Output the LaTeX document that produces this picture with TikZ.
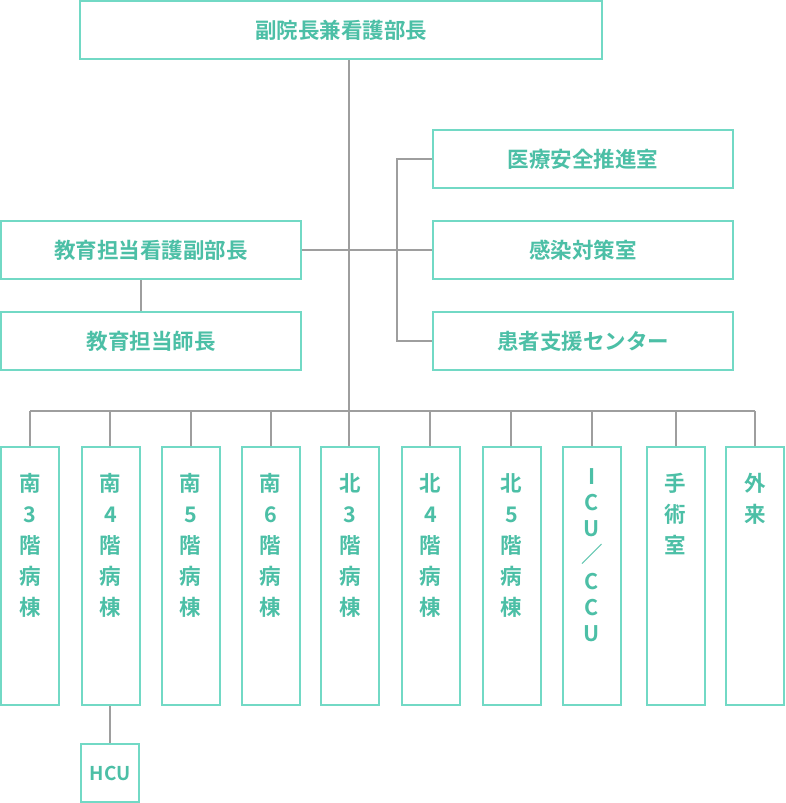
\documentclass[tikz,border=0pt]{standalone}
\usepackage{fontspec}
\setmainfont{Noto Sans CJK JP}[BoldFont={Noto Sans CJK JP Bold}]
\definecolor{tealline}{HTML}{72D9C5}
\definecolor{tealtext}{HTML}{4CBFA6}
\definecolor{grayline}{HTML}{9E9E9E}
\tikzset{
  box/.style={draw=tealline, line width=2pt, fill=white, inner sep=0pt,
    font=\fontsize{21.5}{24}\selectfont\bfseries, text=tealtext},
  wide/.style={box, minimum width=300pt, minimum height=58pt},
  col/.style={box, minimum width=58pt, minimum height=258pt},
  conn/.style={draw=grayline, line width=1.8pt}
}
\newcommand{\vcol}[3]{\parbox[c][252pt][t]{50pt}{\centering\baselineskip=#1pt\relax\rule{0pt}{#2pt}#3\par}}
\begin{document}
\begin{tikzpicture}[x=1pt,y=-1pt]
\useasboundingbox (0,0) rectangle (786,803);
\coordinate (busL) at (30,411);
\coordinate (busR) at (755,411);
\coordinate (busM) at (349,411);
\coordinate (kx1) at (397,159);
\coordinate (kx3) at (397,341);

% boxes
\node[box, minimum width=522pt, minimum height=58pt] (top) at (341,30) {副院長兼看護部長};
\node[wide] (r1) at (583,159) {医療安全推進室};
\node[wide] (r2) at (583,250) {感染対策室};
\node[wide] (r3) at (583,341) {患者支援センター};
\node[wide] (l1) at (151,250) {教育担当看護副部長};
\node[wide] (l2) at (151,341) {教育担当師長};

\node[col] (c1) at (30,576) {\vcol{31}{41}{南\\3\\階\\病\\棟}};
\node[col] (c2) at (110.5,576) {\vcol{31}{41}{南\\4\\階\\病\\棟}};
\node[col] (c3) at (190.5,576) {\vcol{31}{41}{南\\5\\階\\病\\棟}};
\node[col] (c4) at (270.5,576) {\vcol{31}{41}{南\\6\\階\\病\\棟}};
\node[col] (c5) at (350,576) {\vcol{31}{41}{北\\3\\階\\病\\棟}};
\node[col] (c6) at (430.5,576) {\vcol{31}{41}{北\\4\\階\\病\\棟}};
\node[col] (c7) at (511.5,576) {\vcol{31}{41}{北\\5\\階\\病\\棟}};
\node[col] (c8) at (592,576) {\vcol{26.3}{34}{I\\C\\U\\／\\C\\C\\U}};
\node[col] (c9) at (675.5,576) {\vcol{31}{41}{手\\術\\室}};
\node[col] (c10) at (755,576) {\vcol{31}{41}{外\\来}};
\node[box, minimum width=58pt, minimum height=58pt, font=\fontsize{19}{22}\selectfont\bfseries] (hcu) at (110,773) {HCU};

% connectors
\draw[conn] (top.south -| busM) -- (c5.north -| busM);
\draw[conn] (l1.east) -- (r2.west);
\draw[conn] (r1.west) -- (kx1) -- (kx3) -- (r3.west);
\draw[conn] (l1.south -| 141,0) -- (l2.north -| 141,0);
\draw[conn] (busL) -- (busR);
\foreach \c/\x in {c1/30,c2/110,c3/191,c4/271,c6/430,c7/511,c8/592,c9/676,c10/755}{
  \draw[conn] (\x,411) -- (\c.north -| \x,0);
}
\draw[conn] (c2.south -| hcu) -- (hcu.north);
\end{tikzpicture}
\end{document}
